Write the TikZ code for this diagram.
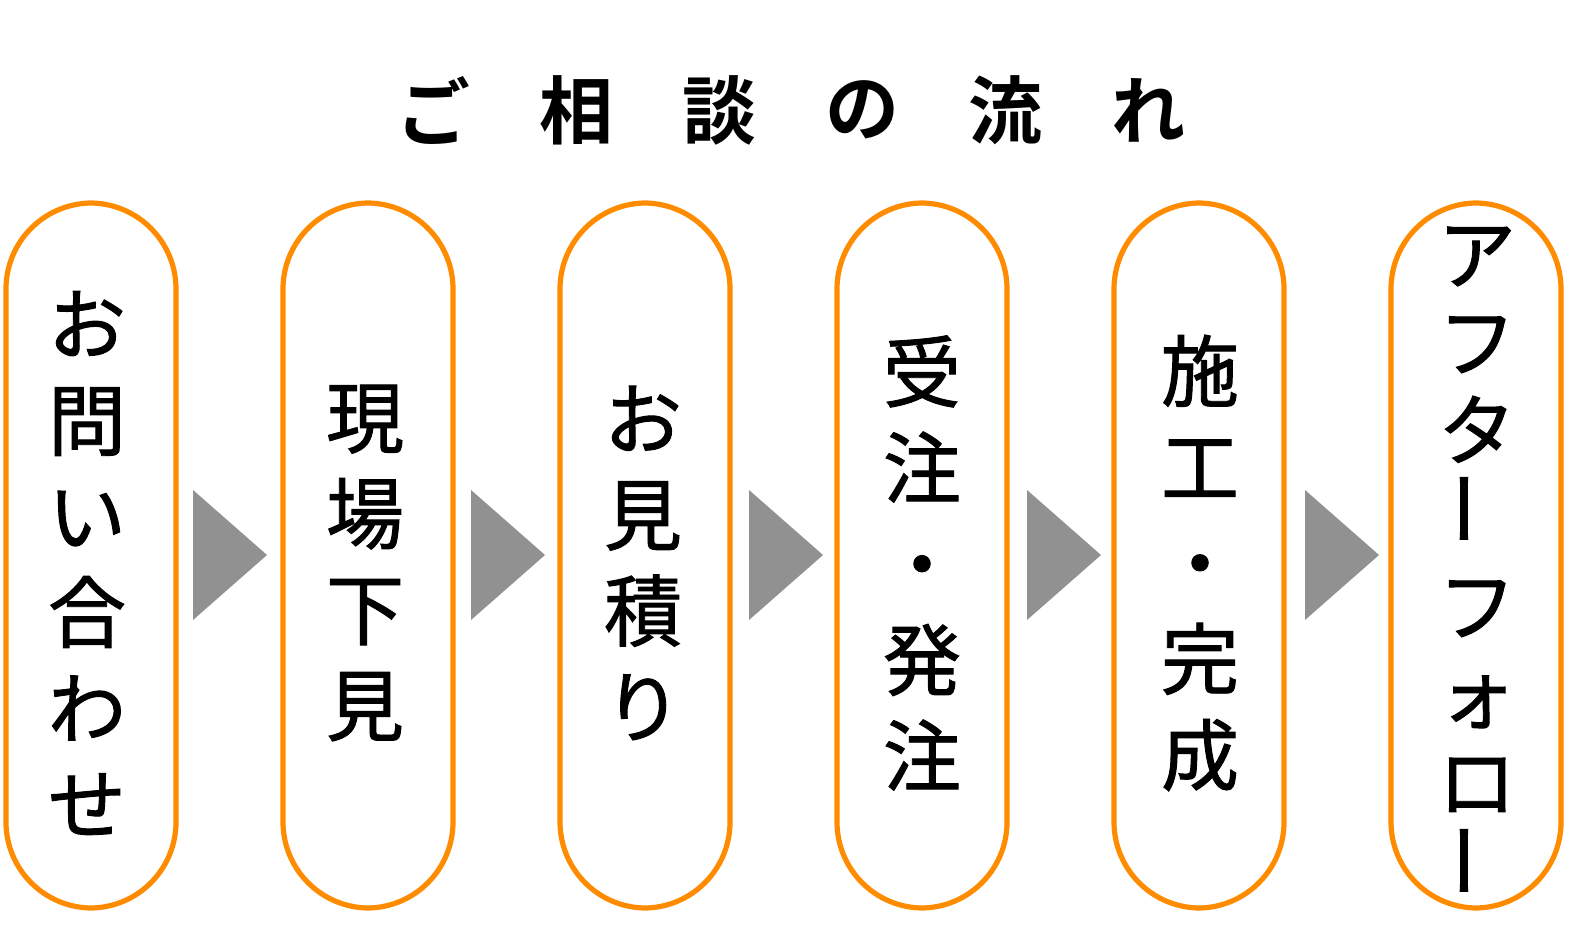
\documentclass[tikz,border=0pt]{standalone}
\usepackage{fontspec}
\newfontfamily\cjk[FakeBold=1.2]{Noto Sans CJK JP}
\newfontfamily\cjkb{Noto Sans CJK JP Bold}
\definecolor{stepor}{RGB}{255,140,0}
\definecolor{arrgray}{RGB}{145,145,145}
\tikzset{
  pill/.style={draw=stepor, line width=2.6pt, fill=white, rounded corners=43pt},
  steparrow/.style={fill=arrgray},
  steptext/.style={font=\cjk\fontsize{39pt}{48pt}\selectfont, align=center, inner sep=0pt},
}
\newcommand{\vbar}{\rotatebox{90}{ー}}
\begin{document}
\begin{tikzpicture}[x=0.5pt,y=-0.5pt]
\useasboundingbox (0,0) rectangle (1588,925);

% title
\foreach \ch [count=\i] in {ご,相,談,の,流,れ}
  \node[font=\cjkb\fontsize{37pt}{40pt}\selectfont] (t\i) at (290+143*\i,110) {\ch};

% steps
\foreach \i in {0,...,5}{
  \draw[pill] (6+277*\i,203) rectangle (176+277*\i,908);
}
\foreach \i in {0,...,4}
  \fill[steparrow] (193+278*\i,490) -- (267+278*\i,555) -- (193+278*\i,620) -- cycle;

\node[steptext] (s1) at (87,563) {お\\問\\い\\合\\わ\\せ};
\node[steptext] (s2) at (365,563) {現\\場\\下\\見};
\node[steptext] (s3) at (643,563) {お\\見\\積\\り};
\node[steptext] (s4) at (922,563) {受\\注\\・\\発\\注};
\node[steptext] (s5) at (1200,563) {施\\工\\・\\完\\成};
\node[steptext, font=\cjk\fontsize{39pt}{44pt}\selectfont] (s6) at (1477,563)
  {ア\\フ\\タ\\\vbar\\フ\\ォ\\ロ\\\vbar};
\end{tikzpicture}
\end{document}
